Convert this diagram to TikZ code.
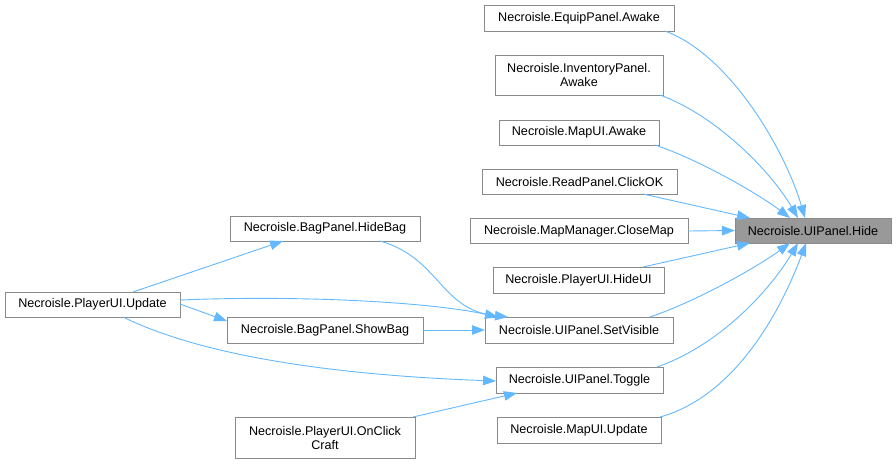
\documentclass[tikz,border=0pt]{standalone}
\usepackage{fontspec}
\setmainfont{Liberation Sans}
\usetikzlibrary{arrows.meta}
\definecolor{edgec}{HTML}{63B8FF}
\definecolor{boxline}{HTML}{8A8A8A}
\definecolor{hidefill}{HTML}{999999}
\begin{document}
\begin{tikzpicture}[x=1pt,y=-1pt,
  fn/.style={draw=boxline,line width=1pt,fill=white,inner sep=0pt,outer sep=0pt,
    font=\fontsize{12.6}{14}\selectfont,align=center},
  cur/.style={fn,fill=hidefill},
  edge/.style={draw=edgec,line width=0.9pt,-{Triangle[length=13pt,width=9.5pt]}}]
\useasboundingbox (0,0) rectangle (896,463);
% nodes
\node[cur,minimum width=156pt,minimum height=25pt] (hide) at (813,230.5) {Necroisle.UIPanel.Hide};
\node[fn,minimum width=190pt,minimum height=26pt] (equip) at (579,18) {Necroisle.EquipPanel.Awake};
\node[fn,minimum width=168pt,minimum height=40pt] (inv) at (579,75) {Necroisle.InventoryPanel.\\Awake};
\node[fn,minimum width=160pt,minimum height=25pt] (mapawake) at (579,132.5) {Necroisle.MapUI.Awake};
\node[fn,minimum width=195pt,minimum height=25pt] (read) at (579.5,181.5) {Necroisle.ReadPanel.ClickOK};
\node[fn,minimum width=218pt,minimum height=25pt] (close) at (579,231) {Necroisle.MapManager.CloseMap};
\node[fn,minimum width=171pt,minimum height=26pt] (hideui) at (578.5,280) {Necroisle.PlayerUI.HideUI};
\node[fn,minimum width=188pt,minimum height=26pt] (setvis) at (579,330) {Necroisle.UIPanel.SetVisible};
\node[fn,minimum width=167pt,minimum height=26pt] (toggle) at (579.5,380) {Necroisle.UIPanel.Toggle};
\node[fn,minimum width=164pt,minimum height=26pt] (mapupd) at (579,430) {Necroisle.MapUI.Update};
\node[fn,minimum width=175pt,minimum height=25pt] (pupd) at (92.5,304.5) {Necroisle.PlayerUI.Update};
\node[fn,minimum width=190pt,minimum height=25pt] (hidebag) at (325,228.5) {Necroisle.BagPanel.HideBag};
\node[fn,minimum width=196pt,minimum height=26pt] (showbag) at (325,330) {Necroisle.BagPanel.ShowBag};
\node[fn,minimum width=180pt,minimum height=41pt] (craft) at (325,437.5) {Necroisle.PlayerUI.OnClick\\Craft};
% edges into Hide
\draw[edge] ([xshift=-9pt]equip.south east) .. controls (730,55) and (785,150) .. ([xshift=70pt]hide.north west);
\draw[edge] ([xshift=-3pt]inv.south east) .. controls (715,115) and (770,170) .. ([xshift=63pt]hide.north west);
\draw[edge] ([xshift=-4pt]mapawake.south east) .. controls (700,160) and (760,195) .. ([xshift=55pt]hide.north west);
\draw[edge] ([xshift=-34pt]read.south east) -- ([xshift=15pt]hide.north west);
\draw[edge] (close.east) -- (hide.west);
\draw[edge] ([xshift=-21pt]hideui.north east) -- ([xshift=15pt]hide.south west);
\draw[edge] ([xshift=-23pt]setvis.north east) .. controls (700,300) and (760,265) .. ([xshift=55pt]hide.south west);
\draw[edge] ([xshift=-6pt]toggle.north east) .. controls (720,345) and (770,290) .. ([xshift=63pt]hide.south west);
\draw[edge] ([xshift=-1pt]mapupd.north east) .. controls (740,395) and (785,300) .. ([xshift=71pt]hide.south west);
% left part
\draw[edge] ([xshift=-47pt]pupd.north east) -- ([xshift=53pt]hidebag.south west);
\draw[edge] ([yshift=-12pt]pupd.north east) -- ([yshift=-4pt]showbag.north west);
\draw[edge] ([yshift=-8pt]pupd.north east) .. controls (300,295) and (430,302) .. ([xshift=13pt]setvis.north west);
\draw[edge] ([xshift=-57pt]pupd.south east) .. controls (200,355) and (330,375) .. ([yshift=-14pt]toggle.north west);
\draw[edge] ([xshift=-2pt]craft.north east) -- ([xshift=21pt]toggle.south west);
\draw[edge] ([xshift=-40pt]hidebag.south east) .. controls (440,258) and (440,310) .. ([xshift=23pt]setvis.north west);
\draw[edge] (showbag.east) -- (setvis.west);
\end{tikzpicture}
\end{document}
